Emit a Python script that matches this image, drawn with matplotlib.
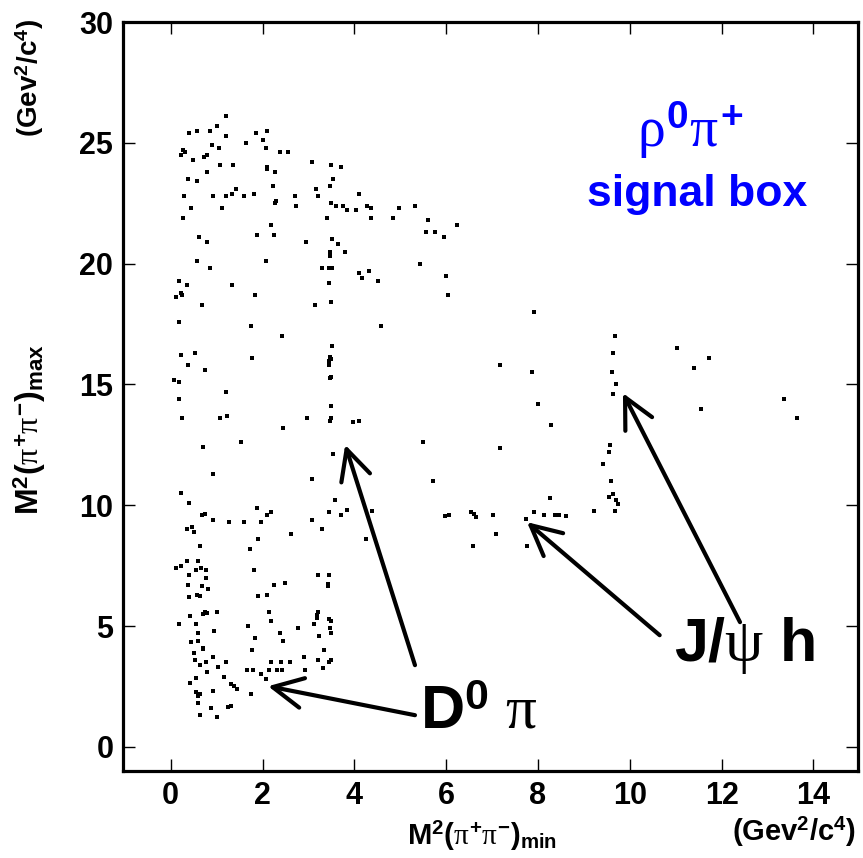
import numpy as np
import matplotlib
matplotlib.use("Agg")
import matplotlib.pyplot as plt

plt.rcParams['font.family'] = ['Liberation Sans', 'DejaVu Sans']
plt.rcParams['mathtext.fontset'] = 'custom'
plt.rcParams['mathtext.rm'] = 'Liberation Sans:bold'
plt.rcParams['mathtext.bf'] = 'Liberation Sans:bold'
plt.rcParams['mathtext.it'] = 'Liberation Serif'

# events, grouped by region
pts_top = [(1.20, 26.1), (1.01, 25.7), (0.39, 25.4), (0.58, 25.5), (0.86, 25.5), (1.21, 25.3),
           (1.85, 25.4), (2.10, 25.5), (2.00, 25.1), (1.63, 25.0), (0.90, 24.9), (1.05, 24.8),
           (2.08, 24.8), (0.27, 24.7), (0.30, 24.6), (0.23, 24.5), (0.79, 24.5), (0.73, 24.4),
           (0.49, 24.3), (2.38, 24.6), (2.56, 24.6), (1.07, 24.1), (1.36, 24.1), (2.10, 24.0),
           (2.09, 23.9), (2.27, 23.8), (3.08, 24.2), (3.49, 24.1), (3.70, 24.0), (0.79, 23.8),
           (0.37, 23.5), (0.58, 23.4), (3.53, 23.5), (2.23, 23.2), (3.17, 23.1), (3.46, 23.2),
           (1.42, 23.1), (1.34, 22.9), (0.29, 22.8), (0.92, 22.8), (1.20, 22.8), (1.59, 22.8),
           (1.82, 22.9), (2.71, 22.8), (2.30, 22.6), (2.27, 22.5), (3.21, 22.8), (4.09, 22.9),
           (0.45, 22.3), (1.12, 22.3), (2.72, 22.4), (3.49, 22.5), (3.60, 22.4), (3.75, 22.4),
           (3.83, 22.2), (4.04, 22.2), (0.27, 21.9), (3.41, 21.9), (2.19, 21.6), (1.87, 21.2),
           (2.26, 21.2), (0.61, 21.1), (0.78, 20.9), (2.95, 20.9), (3.51, 21.0), (3.65, 20.8),
           (3.80, 20.5), (3.47, 20.5), (3.46, 20.3), (0.57, 20.1), (2.08, 20.1), (0.86, 19.8),
           (3.30, 19.8), (3.44, 19.8), (3.51, 19.8), (4.11, 19.6), (0.17, 19.3), (0.35, 19.1),
           (1.34, 19.1), (3.45, 19.2), (0.23, 18.8), (0.25, 18.7), (0.12, 18.6), (1.84, 18.7),
           (0.68, 18.3), (3.14, 18.3), (3.49, 18.4)]

pts_upper_mid = [(4.28, 22.4), (4.36, 22.3), (4.37, 21.9), (4.97, 22.3), (5.32, 22.4), (4.84, 21.9),
                 (5.60, 21.8), (6.24, 21.6), (5.56, 21.3), (5.76, 21.3), (5.95, 21.1), (5.44, 20.0),
                 (4.32, 19.7), (4.17, 19.4), (4.51, 19.3), (5.99, 19.5), (6.04, 18.7), (7.92, 18.0)]

pts_mid = [(0.17, 17.6), (1.75, 17.4), (2.43, 17.0), (3.52, 16.6), (0.22, 16.2), (0.53, 16.3),
           (0.37, 15.8), (0.74, 15.6), (1.78, 16.1), (3.46, 16.13), (3.48, 16.05), (3.45, 15.98),
           (3.45, 15.8), (3.49, 15.3), (3.47, 15.25), (0.07, 15.2), (0.18, 15.1), (0.19, 14.4),
           (1.20, 14.7), (3.49, 14.1), (0.25, 13.6), (1.08, 13.6), (1.23, 13.7), (2.97, 13.6),
           (3.49, 13.6), (3.47, 13.5), (3.97, 13.45), (4.10, 13.5), (2.45, 13.2), (0.71, 12.4),
           (1.53, 12.6), (3.53, 12.1), (0.91, 11.3), (3.08, 11.1), (0.22, 10.5), (0.40, 10.1),
           (1.87, 9.9), (2.18, 9.7), (3.57, 10.2), (3.85, 9.8)]

pts_low = [(2.09, 9.6), (0.69, 9.6), (0.75, 9.65), (0.91, 9.4), (1.26, 9.3), (1.59, 9.3),
           (1.96, 9.3), (0.36, 9.0), (0.47, 9.1), (0.51, 8.9), (3.08, 9.4), (3.44, 9.7),
           (3.71, 9.6), (3.29, 9.0), (2.62, 8.8), (1.90, 8.6), (1.72, 8.2), (0.64, 8.3),
           (0.11, 7.4), (0.22, 7.5), (0.36, 7.7), (0.59, 7.7), (0.55, 7.3), (0.65, 7.4),
           (0.76, 7.3), (0.39, 7.1), (0.77, 7.0), (1.81, 7.3), (0.38, 6.7), (0.68, 6.65),
           (0.82, 6.55), (0.39, 6.2), (0.58, 6.3), (0.64, 6.25), (2.26, 6.7), (2.49, 6.8),
           (2.10, 6.3), (1.89, 6.25), (3.20, 7.1), (3.45, 7.1), (3.43, 6.75), (3.43, 6.65),
           (0.41, 5.4), (0.18, 5.1), (0.54, 5.1), (0.70, 5.5), (0.74, 5.6), (0.79, 5.55),
           (1.01, 5.6), (0.94, 4.8), (0.60, 4.7), (0.59, 4.4), (0.44, 4.35), (0.70, 4.1),
           (0.71, 4.05), (0.50, 3.9), (0.92, 3.7), (0.53, 3.6), (0.77, 3.5), (0.64, 3.4),
           (1.20, 3.5), (1.04, 3.3), (0.78, 3.1), (1.17, 2.9), (0.56, 2.85), (0.41, 2.65),
           (1.31, 2.6), (1.38, 2.5), (1.44, 2.4), (0.93, 2.3), (0.55, 2.25), (0.64, 2.2),
           (0.60, 2.1), (0.59, 1.8), (0.88, 1.6), (1.25, 1.65), (1.32, 1.7), (0.63, 1.3),
           (1.01, 1.25), (1.74, 2.2), (2.08, 2.8), (1.96, 3.0), (1.66, 3.2), (1.80, 3.2),
           (2.14, 3.2), (2.32, 3.2), (2.43, 3.2), (2.18, 3.5), (2.40, 3.5), (2.60, 3.5),
           (1.78, 4.0), (2.38, 4.7), (2.44, 4.4), (1.84, 4.5), (1.69, 5.0), (2.14, 5.6),
           (2.19, 5.2), (2.77, 4.9), (2.90, 3.7), (2.92, 3.2), (3.21, 3.6), (3.31, 3.25),
           (3.44, 3.5), (3.50, 3.6), (3.33, 4.0), (3.22, 4.6), (3.50, 4.7), (3.46, 4.9),
           (3.12, 5.1), (3.19, 5.35), (3.21, 5.6), (3.19, 5.45), (3.44, 5.3), (3.49, 5.2)]

pts_right_mid = [(4.58, 17.4), (7.17, 15.8), (7.86, 15.5), (7.99, 14.2), (8.29, 13.3), (5.50, 12.6),
                 (7.17, 12.35), (5.72, 11.0), (8.26, 10.3), (4.38, 9.75), (5.98, 9.55), (6.07, 9.6),
                 (6.54, 9.7), (6.60, 9.65), (6.64, 9.5), (7.02, 9.6), (7.73, 9.45), (7.91, 9.7),
                 (8.13, 9.6), (4.25, 8.6), (7.09, 8.8), (6.59, 8.3), (7.77, 8.3)]

pts_far_right = [(9.68, 17.0), (9.64, 16.3), (9.61, 15.5), (9.69, 15.0), (9.64, 14.6), (11.02, 16.5),
                 (11.72, 16.1), (11.40, 15.7), (11.56, 14.0), (13.35, 14.4), (13.64, 13.6),
                 (9.56, 12.5), (9.54, 12.2), (9.42, 11.7), (9.59, 11.0), (9.63, 10.45),
                 (9.55, 10.35), (9.69, 10.2), (9.75, 10.05), (9.67, 9.75), (9.22, 9.75),
                 (8.37, 9.6), (8.46, 9.6), (8.61, 9.55)]

xticks = [0, 2, 4, 6, 8, 10, 12, 14]
yticks = [0, 5, 10, 15, 20, 25, 30]

# arrows: (tip, tail)
arrows_dpi = [((3.80, 12.5), (5.32, 3.38)), ((2.12, 2.51), (5.32, 1.31))]
arrows_jpsi = [((7.76, 9.30), (10.65, 4.62)), ((9.85, 14.64), (12.40, 5.16))]

allpts = np.array(pts_top + pts_upper_mid + pts_mid + pts_low + pts_right_mid + pts_far_right)

W, H = 863, 858
fig = plt.figure(figsize=(W / 100, H / 100), dpi=100)
ax = fig.add_axes([123 / W, 1 - 771 / H, (858 - 123) / W, (771 - 22) / H])

ax.plot(allpts[:, 0], allpts[:, 1], 's', color='k', ms=3.2, mew=0)

ax.set_xlim(-1.04, 14.97)
ax.set_ylim(-1.0, 30.0)
ax.set_xticks(xticks)
ax.set_yticks(yticks)
for sp in ax.spines.values():
    sp.set_linewidth(2.3)
ax.tick_params(direction='in', length=8.5, width=1.0, top=True, right=True,
               labelsize=22, pad=7)
for lab in ax.get_xticklabels() + ax.get_yticklabels():
    lab.set_fontweight('bold')

blue = '#0000ff'
ax.text(11.32, 25.5, r'$\rho^{0}\pi^{+}$', color=blue, fontsize=40, ha='center', va='center')
ax.text(11.47, 22.84, 'signal box', color=blue, fontsize=32, fontweight='bold',
        ha='center', va='center')

ax.text(6.70, 1.42, r'$\mathbf{D}^{0}\ \pi$', fontsize=44, ha='center', va='center')
ax.text(12.50, 4.2, r'$\mathbf{J/}\psi\ \mathbf{h}$', fontsize=44, ha='center', va='center')

aprops = dict(arrowstyle='->,head_length=0.9,head_width=0.45', lw=3, color='k',
              shrinkA=0, shrinkB=0, mutation_scale=24)
for tip, tail in arrows_dpi + arrows_jpsi:
    ax.annotate('', xy=tip, xytext=tail, arrowprops=aprops)

fig.text(482 / W, 1 - 836 / H, r'$\mathbf{M}^{2}(\pi^{+}\pi^{-})_{\mathbf{min}}$',
         fontsize=21, ha='center', va='center')
fig.text(794 / W, 1 - 832 / H, r'$(\mathbf{Gev}^{2}/\mathbf{c}^{4})$',
         fontsize=21, ha='center', va='center')
fig.text(30 / W, 1 - 430 / H, r'$\mathbf{M}^{2}(\pi^{+}\pi^{-})_{\mathbf{max}}$',
         fontsize=23, ha='center', va='center', rotation=90)
fig.text(30 / W, 1 - 78 / H, r'$(\mathbf{Gev}^{2}/\mathbf{c}^{4})$',
         fontsize=20, ha='center', va='center', rotation=90)

fig.savefig('out.png', dpi=100)
